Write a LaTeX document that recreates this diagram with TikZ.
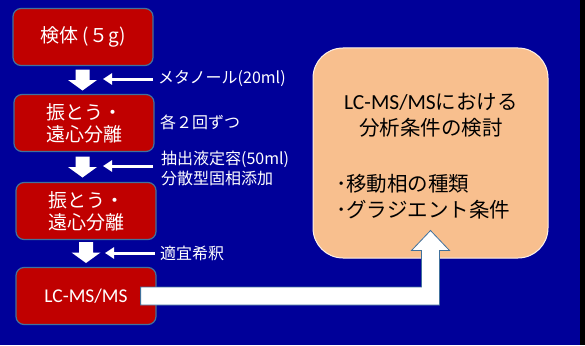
\documentclass[tikz,border=0pt]{standalone}
\usepackage{fontspec}
\setmainfont{Carlito}
\newfontfamily\jp{Noto Sans CJK JP}
\newfontfamily\lat{Carlito}
\usetikzlibrary{arrows.meta,calc}
\definecolor{bgblue}{HTML}{000099}
\definecolor{boxred}{HTML}{C00000}
\definecolor{bordc}{HTML}{41719C}
\definecolor{peach}{HTML}{F8BF8E}
\begin{document}
\begin{tikzpicture}[x=1pt,y=-1pt,
  redbox/.style={draw=bordc, line width=1.2pt, fill=boxred, rounded corners=8pt,
    minimum width=140pt, minimum height=57pt, text=white,
    font=\jp\fontsize{19}{22}\selectfont, align=center, inner sep=0pt},
  sidearrow/.style={draw=white, line width=3pt, -{Triangle[length=9pt,width=11pt]}},
  sidetext/.style={text=white, font=\jp\fontsize{16}{20}\selectfont, anchor=west, align=left, inner sep=0pt},
  bodytext/.style={text=black, font=\jp\fontsize{20.5}{26}\selectfont, inner sep=0pt},
  lbar/.style={draw=bordc, fill=white, line width=0.8pt},
  dnarrow/.pic={\fill[white] (-7,-10.5) -- (7,-10.5) -- (7,0) -- (14.5,0) -- (0,10.5) -- (-14.5,0) -- (-7,0) -- cycle;}]
\fill[bgblue] (0,0) rectangle (580,345);
\fill[black] (580,0) rectangle (585,345);
\useasboundingbox (0,0) rectangle (585,345);

\node[redbox] (b1) at (83,37) {検体 (５g)};
\node[redbox] (b2) at (84,123) {振とう・\\遠心分離};
\node[redbox] (b3) at (86,211) {振とう・\\遠心分離};
\node[redbox, font=\lat\fontsize{19.5}{22}\selectfont] (b4) at (86,296) {LC-MS/MS};

\path ($(b1.south)!0.5!(b2.north)+(-1,0)$) pic {dnarrow};
\path ($(b2.south)!0.5!(b3.north)+(-2.5,0)$) pic {dnarrow};
\path ($(b3.south)!0.5!(b4.north)+(0,-1)$) pic {dnarrow};

\coordinate (s1a) at (153,79);  \coordinate (s1b) at (103,79);
\coordinate (s2a) at (153,166); \coordinate (s2b) at (103,166);
\coordinate (s3a) at (155,253); \coordinate (s3b) at (105,253);
\draw[sidearrow] (s1a) -- (s1b);
\draw[sidearrow] (s2a) -- (s2b);
\draw[sidearrow] (s3a) -- (s3b);

\node[sidetext] (t1) at (158,79) {メタノール(20ml)};
\node[sidetext] (t2) at (160,122) {各２回ずつ};
\node[sidetext] (t3) at (161,168) {抽出液定容(50ml)\\分散型固相添加};
\node[sidetext] (t4) at (160,253) {適宜希釈};

\node[draw=white!80!peach, line width=1pt, fill=peach, rounded corners=30pt,
  minimum width=235pt, minimum height=210pt] (ob) at (430.5,153) {};
\node[bodytext, align=center] (h) at (431,115) {{\lat\fontsize{21.5}{26}\selectfont LC-MS/MS}における\\分析条件の検討};
\node[bodytext, align=left, anchor=west] (bl) at (336,197) {･移動相の種類\\･グラジエント条件};

\draw[lbar] let \p1=(b4.east), \p2=(ob.south) in
  (\x1-16pt,\y1+9pt) -- (\x2-9pt,\y1+9pt) -- (\x2-9pt,\y2+8pt) -- (\x2-19pt,\y2+8pt)
  -- (\x2,\y2+28pt) -- (\x2+19pt,\y2+8pt) -- (\x2+9pt,\y2+8pt) -- (\x2+9pt,\y1-9pt)
  -- (\x1-16pt,\y1-9pt) -- cycle;
\end{tikzpicture}
\end{document}
